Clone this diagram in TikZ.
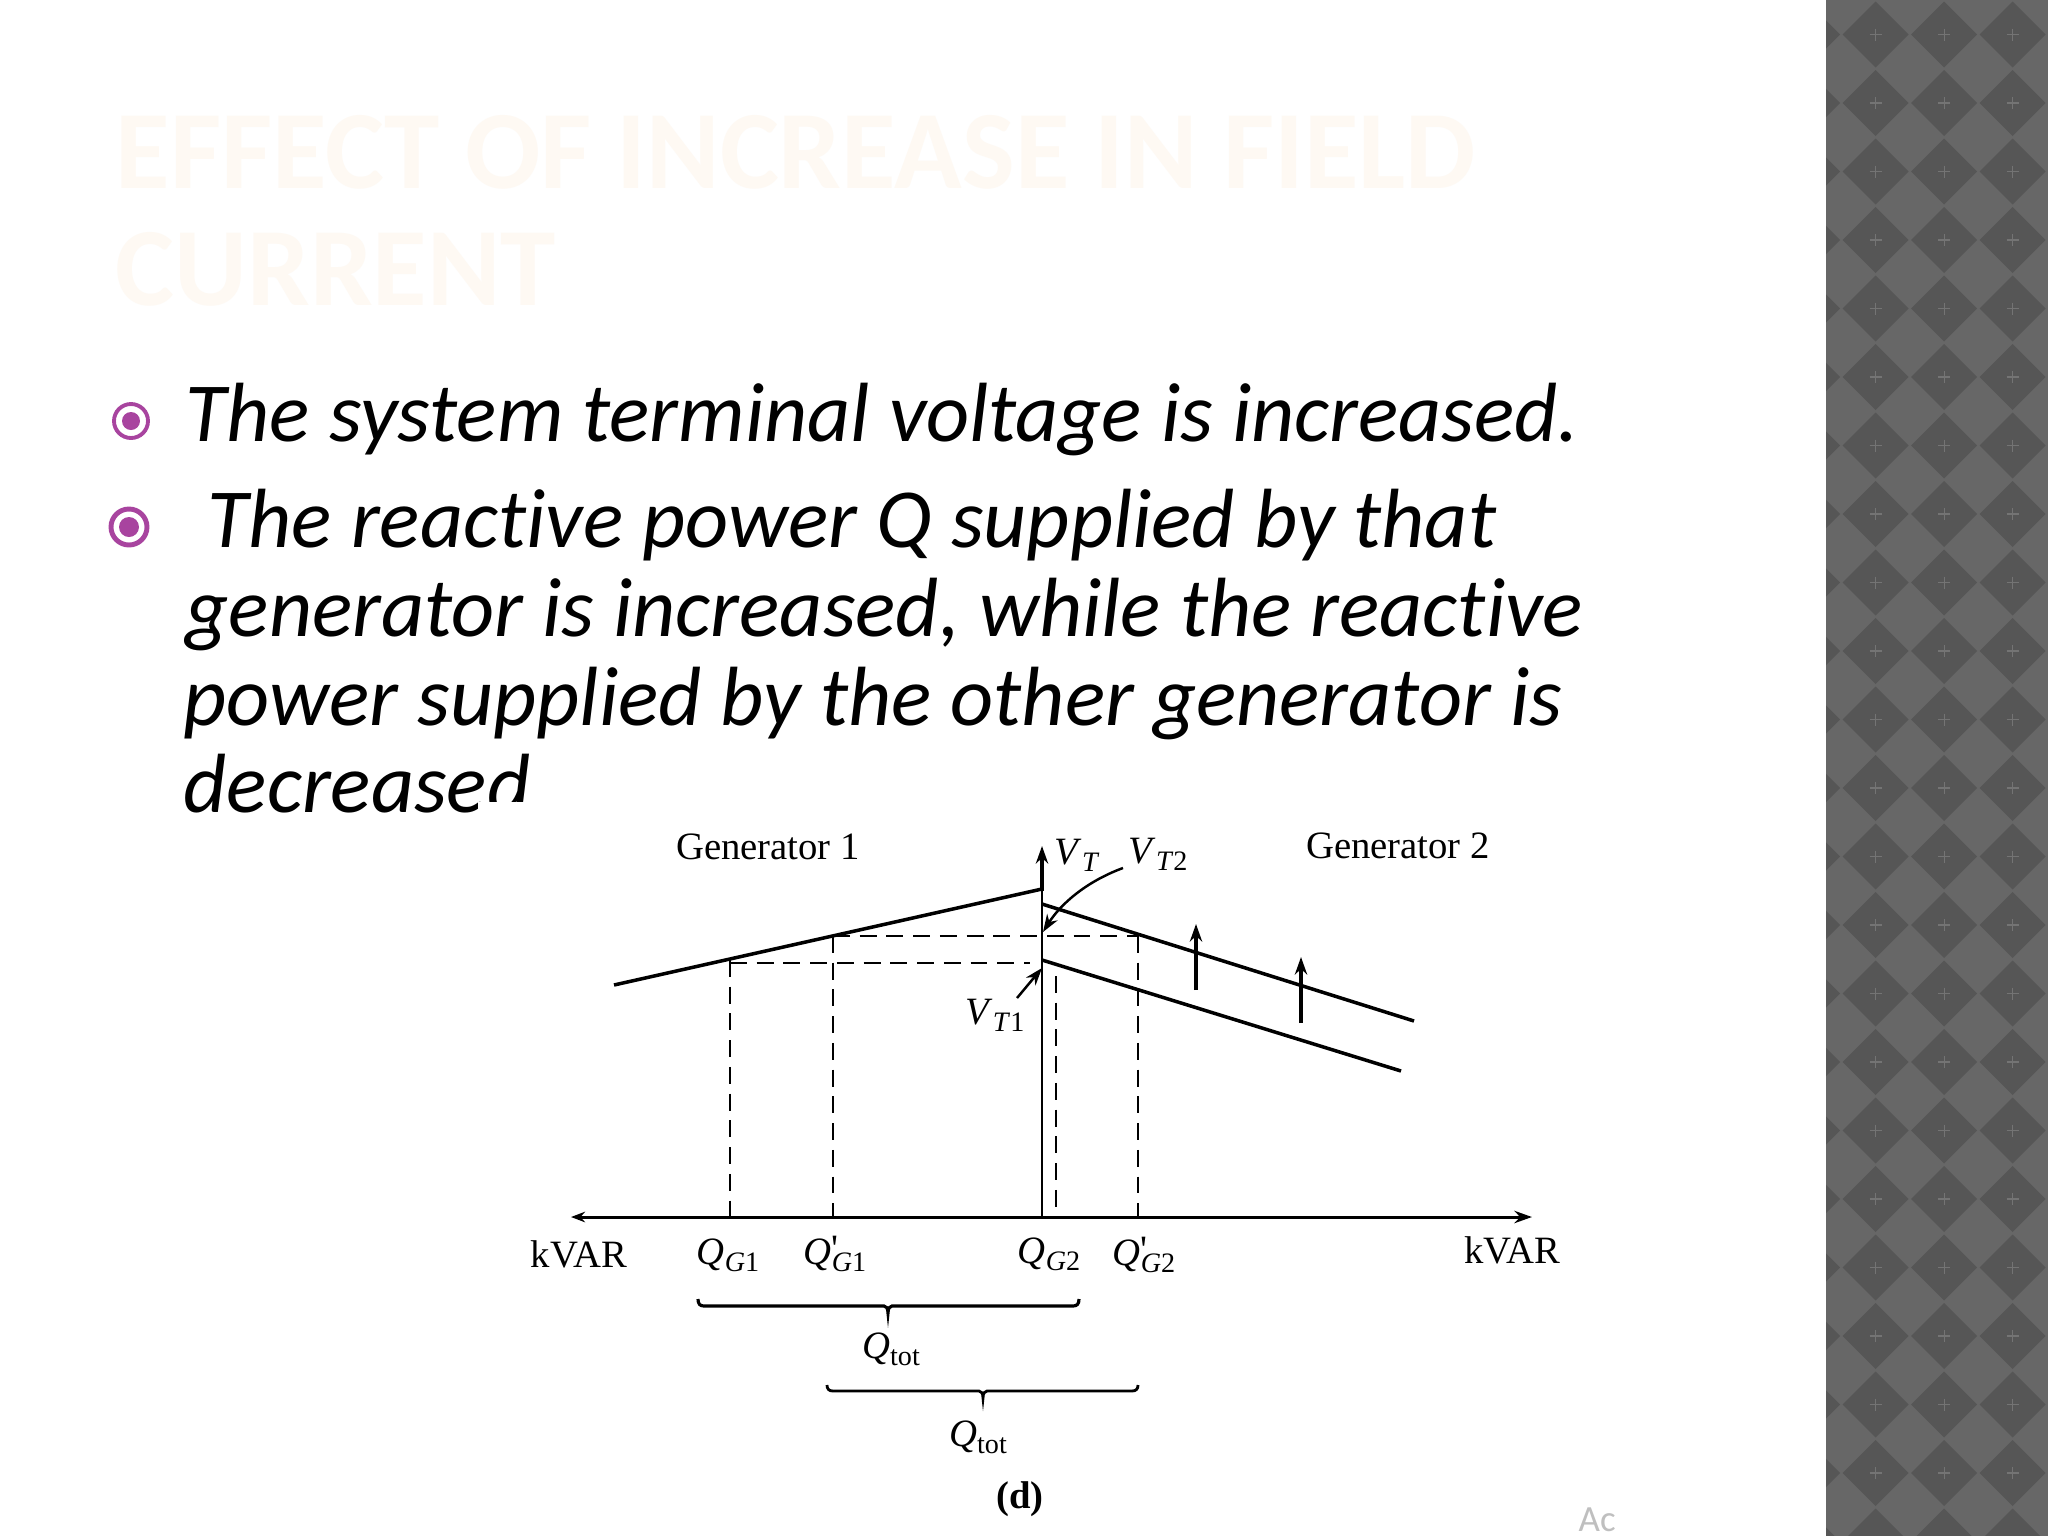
\documentclass[tikz,border=0pt]{standalone}
\usepackage{fontspec}
\setmainfont[Ligatures=NoCommon]{Carlito}
\newfontfamily\figfont{Liberation Serif}
\usetikzlibrary{arrows.meta}
\definecolor{bulletpurple}{HTML}{A8449F}
\definecolor{titlecream}{HTML}{FEF9F3}
\definecolor{sideback}{HTML}{676767}
\definecolor{sidedark}{HTML}{565656}
\definecolor{sidestar}{HTML}{747474}
\newcommand{\figsym}[2]{\textit{#1}\raisebox{-0.4ex}{\fontsize{8}{8}\selectfont #2}}
\newcommand{\figprime}[1]{#1\rlap{\raisebox{0.2ex}{\textup{'}}}}
\tikzset{
  bodytext/.style={anchor=base west,inner sep=0pt,font=\fontsize{23.9}{24}\selectfont\itshape},
  titletext/.style={anchor=base west,inner sep=0pt,text=titlecream,font=\fontsize{31.7}{32}\selectfont\bfseries},
  figlabel/.style={inner sep=0pt,font=\figfont\fontsize{11}{11}\selectfont},
  droop/.style={line width=1pt},
  guide/.style={line width=0.75pt,dash pattern=on 4.8pt off 2.8pt},
  tip/.style={-{Stealth[length=5pt,width=3.5pt]}},
  bothtip/.style={{Stealth[length=4pt,width=3pt]}-{Stealth[length=5pt,width=3.5pt]}},
  bulletring/.style={draw=bulletpurple,line width=#1,fill=white},
  bulletdot/.style={fill=bulletpurple}
}
\begin{document}
\begin{tikzpicture}[x=0.01cm,y=-0.01cm]
    \useasboundingbox (0,0) rectangle (2048,1536);
    \fill[white] (0,0) rectangle (2048,1536);

    % Side band
    \fill[sideback] (1826,0) rectangle (2048,1536);
    \begin{scope}
      \clip (1826,0) rectangle (2048,1536);
      \foreach \i in {-1,...,3} {
        \foreach \j in {0,...,22} {
          \pgfmathsetmacro{\cx}{1875.7+68.5*\i}
          \pgfmathsetmacro{\cy}{34.5+68.5*\j}
          \fill[sidedark] (\cx-33,\cy) -- (\cx,\cy-33) -- (\cx+33,\cy) -- (\cx,\cy+33) -- cycle;
          \draw[sidestar,line width=0.35pt] (\cx-6,\cy) -- (\cx+6,\cy) (\cx,\cy-6) -- (\cx,\cy+6);
        }
      }
    \end{scope}

    % Title
    \node[titletext] (title1) at (115,188) {EFFECT OF INCREASE IN FIELD};
    \node[titletext] (title2) at (115,305) {CURRENT};

    % Bullets
    \filldraw[bulletring=1.1pt] (131,421) circle (17);
    \fill[bulletdot] (131,421) circle (9);
    \filldraw[bulletring=1.4pt] (129,527) circle (18);
    \fill[bulletdot] (129,527) circle (10);

    % Body text
    \node[bodytext] (line1) at (185,441) {The system terminal voltage is increased.};
    \node[bodytext] (line2) at (207,547) {The reactive power Q supplied by that};
    \node[bodytext] (line3) at (185,636) {generator is increased, while the reactive};
    \node[bodytext] (line4) at (183,725) {power supplied by the other generator is};
    \node[bodytext] (line5) at (183,812) {decreased};

    % Picture covers the last line
    \fill[white] (478,802) rectangle (1826,1536);
    \fill[white] (0,820) rectangle (1826,1536);

    % Axes
    \coordinate (axisL) at (571,1217);
    \coordinate (axisR) at (1532,1217);
    \coordinate (axisB) at (1042,1217);
    \coordinate (axisM) at (1042,891);
    \coordinate (axisT) at (1042,846);
    \draw[bothtip,line width=0.85pt] (axisL) -- (axisR);
    \draw[line width=0.5pt] (axisB) -- (axisM);
    \draw[tip,line width=1.1pt] (axisM) -- (axisT);

    % Droop lines
    \coordinate (g1a) at (614,985);
    \coordinate (g1b) at (1042,889);
    \coordinate (g2a) at (1042,904);
    \coordinate (g2b) at (1414,1021);
    \coordinate (g3a) at (1042,960);
    \coordinate (g3b) at (1401,1071);
    \draw[droop] (g1a) -- (g1b);
    \draw[droop] (g2a) -- (g2b);
    \draw[droop] (g3a) -- (g3b);

    % Guides
    \draw[guide] (730,960) -- (730,1217);
    \draw[guide] (730,963) -- (1030,963);
    \draw[guide] (833,936) -- (833,1217);
    \draw[guide] (833,936) -- (1138,936);
    \draw[guide] (1056,976) -- (1056,1217);
    \draw[guide] (1138,936) -- (1138,1217);

    % Shift arrows
    \draw[tip,line width=1.1pt] (1196,990) -- (1196,924);
    \draw[tip,line width=1.1pt] (1301,1023) -- (1301,957);

    % Leaders
    \coordinate (vt2from) at (1123,868);
    \coordinate (vt2to) at (1043,932);
    \coordinate (vt1from) at (1017,998);
    \coordinate (vt1to) at (1042,968);
    \draw[tip,line width=0.7pt] (vt2from) .. controls (1085,882) and (1060,905) .. (vt2to);
    \draw[tip,line width=0.7pt] (vt1from) -- (vt1to);

    % Braces
    \draw[line width=0.9pt] (698,1299) .. controls (698,1304) and (700,1306) .. (704,1306) -- (884,1306) .. controls (886,1306) and (888,1308) .. (888,1313) .. controls (888,1308) and (890,1306) .. (892,1306) -- (1073,1306) .. controls (1077,1306) and (1079,1304) .. (1079,1299);
    \draw[line width=0.8pt] (827,1385) .. controls (827,1389) and (829,1391) .. (833,1391) -- (979,1391) .. controls (981,1391) and (983,1393) .. (983,1398) .. controls (983,1393) and (985,1391) .. (987,1391) -- (1132,1391) .. controls (1136,1391) and (1138,1389) .. (1138,1385);

    % Labels
    \node[figlabel] (gen1) at (768,847) {Generator 1};
    \node[figlabel] (gen2) at (1398,846) {Generator 2};
    \node[figlabel] (vt) at (1077,855) {\figsym{V}{\textit{T}}};
    \node[figlabel] (vt2) at (1158,854) {\figsym{V}{\textit{T}2}};
    \node[figlabel] (vt1) at (995,1015) {\figsym{V}{\textit{T}1}};
    \node[figlabel] (kvarL) at (579,1254) {kVAR};
    \node[figlabel] (kvarR) at (1512,1250) {kVAR};
    \node[figlabel] (qg1) at (728,1255) {\figsym{Q}{\textit{G}1}};
    \node[figlabel] (qg1p) at (835,1254) {\figsym{\figprime{Q}}{\textit{G}1}};
    \node[figlabel] (qg2) at (1049,1254) {\figsym{Q}{\textit{G}2}};
    \node[figlabel] (qg2p) at (1144,1255) {\figsym{\figprime{Q}}{\textit{G}2}};
    \node[figlabel] (qtot1) at (891,1349) {\figsym{Q}{tot}};
    \node[figlabel] (qtot2) at (978,1437) {\figsym{Q}{tot}};
    \node[figlabel] (caption) at (1020,1499) {\textbf{(d)}};

    % Watermark stub
    \node[anchor=base west,inner sep=0pt,text=black!25,font=\fontsize{10.5}{11}\selectfont] (mark) at (1578,1531) {Ac};
\end{tikzpicture}
\end{document}
